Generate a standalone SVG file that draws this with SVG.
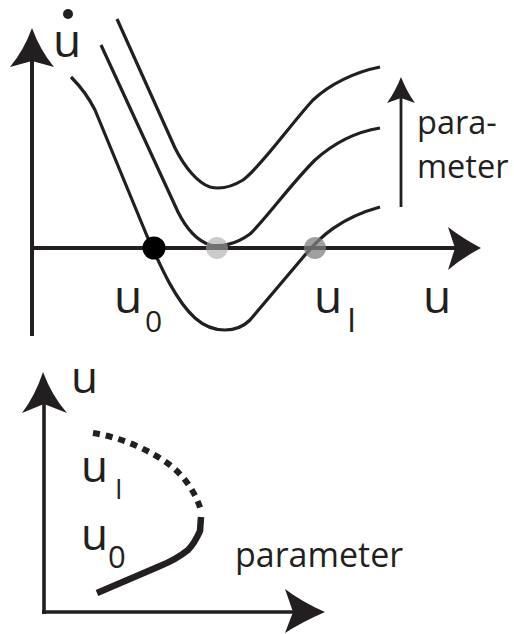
<svg xmlns="http://www.w3.org/2000/svg" width="514" height="634" viewBox="0 0 514 634">
<style>
.ax{stroke:#231f20;stroke-width:4;fill:none}
.cv{stroke:#231f20;stroke-width:3.2;fill:none;stroke-linejoin:round}
.hd{fill:#231f20}
.t{font-family:"Open Sans","Noto Sans",sans-serif;fill:#231f20}
</style>
<rect width="514" height="634" fill="#fff"/>
<g id="connectors">
<line class="ax" x1="32" y1="336" x2="32" y2="60"/>
<path class="hd" d="M32,28 Q24,50 10,67 L32,61 L54,67 Q40,50 32,28 Z"/>
<line class="ax" x1="30" y1="248" x2="458" y2="248"/>
<path class="hd" d="M481,248 Q462,238 448,227 L455,248 L448,270 Q462,258 481,248 Z"/>
<line class="ax" style="stroke-width:2.8" x1="401" y1="207" x2="401" y2="95"/>
<path class="hd" d="M401,77 Q395,92 387,103 L401,98 L415,103 Q407,92 401,77 Z"/>
<line class="ax" style="stroke-width:3.6" x1="44" y1="614" x2="44" y2="400"/>
<path class="hd" d="M43,372 Q35,396 22,413 L44,404 L67,413 Q52,396 43,372 Z"/>
<line class="ax" style="stroke-width:3.6" x1="42" y1="612" x2="296" y2="612"/>
<path class="hd" d="M325,612 Q302,602 285,589 L293,612 L285,633 Q302,622 325,612 Z"/>
</g>
<g id="curve-low">
<path class="cv" d="M71,77 C80,86 88,96 95,110 L147,236 C160,265 175,300 195,318 C205,327 215,330 225,330 C235,330 243,327 250,320 L305,255 C320,237 340,218 380,207"/>
</g>
<g id="curve-mid">
<path class="cv" d="M101,45 L178,212 C185,226 195,240 210,245 C220,247 235,245 250,234 C265,220 290,185 315,160 C335,142 355,132 380,128"/>
</g>
<g id="curve-high">
<path class="cv" d="M117,19 L175,148 C185,168 198,183 210,187 C218,189 230,188 243,180 C260,168 290,125 313,100 C330,84 355,72 380,67"/>
</g>
<g id="point-u0"><circle cx="154" cy="248" r="11.5" fill="#000"/></g>
<g id="point-saddle"><circle cx="217" cy="248" r="11" fill="#a8a8a8" opacity="0.6"/></g>
<g id="point-ul"><circle cx="315" cy="248" r="11" fill="#808080" opacity="0.75"/></g>
<g id="labels-top">
<text class="t" x="53" y="57" font-size="46">u</text>
<circle cx="68" cy="14" r="5" fill="#231f20"/>
<text class="t" x="114" y="313" font-size="46">u</text>
<text class="t" x="145" y="332" font-size="30">0</text>
<text class="t" x="314" y="313" font-size="46">u</text>
<text class="t" x="347" y="332" font-size="33">I</text>
<text class="t" x="423" y="313" font-size="46">u</text>
<text class="t" x="417" y="134" font-size="32.5">para-</text>
<text class="t" x="417" y="178" font-size="32.5">meter</text>
</g>
<g id="bifurcation">
<path fill="none" stroke="#231f20" stroke-width="6" stroke-dasharray="7 6" d="M93,433 C120,437 150,450 170,465 C185,477 195,492 201,510"/>
<path fill="none" stroke="#231f20" stroke-width="6.5" d="M201,517 L200,531 C196,540 192,546 188,550 C178,558 170,562 160,566 L97,593"/>
</g>
<g id="labels-bottom">
<text class="t" x="71" y="393" font-size="44">u</text>
<text class="t" x="81" y="482" font-size="44">u</text>
<text class="t" x="115" y="499" font-size="27">I</text>
<text class="t" x="81" y="550" font-size="44">u</text>
<text class="t" x="108" y="568" font-size="31">0</text>
<text class="t" x="235" y="567" font-size="34">parameter</text>
</g>
</svg>
